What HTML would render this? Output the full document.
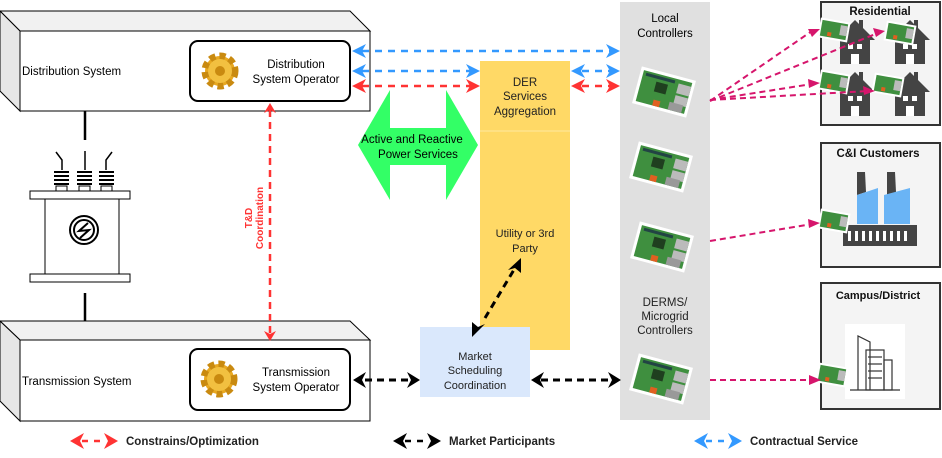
<!DOCTYPE html>
<html><head><meta charset="utf-8"><style>
html,body{margin:0;padding:0;background:#fff}
svg{display:block;font-family:"Liberation Sans",sans-serif}
</style></head><body>
<svg width="942" height="458" viewBox="0 0 942 458" xmlns="http://www.w3.org/2000/svg">
<defs>
<g id="pi">
  <rect x="-28" y="-19" width="56" height="38" fill="#fff"/>
  <rect x="-25" y="-16" width="50" height="32" fill="#3f8f3f"/>
  <rect x="-10" y="-8" width="12" height="10" fill="#1f3f1f"/>
  <rect x="12" y="-12" width="13" height="10" fill="#bbb"/>
  <rect x="12" y="0" width="13" height="9" fill="#bbb"/>
  <rect x="8" y="8" width="14" height="8" fill="#999"/>
  <rect x="-8" y="10" width="7" height="6" fill="#e06020"/>
  <rect x="-22" y="-14" width="30" height="3" fill="#244"/>
</g>
<g id="pis">
  <rect x="-15" y="-10" width="30" height="20" fill="#fff"/>
  <rect x="-13" y="-8" width="26" height="16" fill="#3f8f3f"/>
  <rect x="6" y="-6" width="7" height="10" fill="#bbb"/>
  <rect x="-6" y="3" width="4" height="4" fill="#e06020"/>
</g>
<g id="house">
  <polygon points="0,-22 -20,-2 -15,-2 -15,22 15,22 15,-2 20,-2 8,-14 8,-22 4,-22 4,-18" fill="#444"/>
  <rect x="-7" y="2" width="5" height="5" fill="#fff"/><rect x="2" y="2" width="5" height="5" fill="#fff"/>
  <rect x="-4" y="12" width="8" height="10" fill="#fff"/>
</g>
<g id="gear">
  <circle cx="0" cy="0" r="15" fill="#e8a820" stroke="#c98a10" stroke-width="7" stroke-dasharray="6 4"/>
  <circle cx="0" cy="0" r="12" fill="#f2c040"/>
  <circle cx="0" cy="0" r="5" fill="#c98a10"/>
</g>
</defs>

<polygon points="0,11 350,11 370,31 20,31" fill="#f1f1f1" stroke="#000"/>
<polygon points="0,11 20,31 20,111 0,91" fill="#e6e6e6" stroke="#000"/>
<rect x="20" y="31" width="350" height="80" fill="#fff" stroke="#000"/>
<text x="22" y="75" font-size="11.5">Distribution System</text>
<rect x="190" y="41" width="160" height="60" rx="8" fill="#fff" stroke="#000" stroke-width="2"/>
<use href="#gear" x="220" y="71"/>
<text x="296" y="68" font-size="11.5" text-anchor="middle">Distribution</text>
<text x="296" y="83" font-size="11.5" text-anchor="middle">System Operator</text>

<polygon points="0,321 350,321 370,340 20,340" fill="#f1f1f1" stroke="#000"/>
<polygon points="0,321 20,340 20,421 0,401" fill="#e6e6e6" stroke="#000"/>
<rect x="20" y="340" width="350" height="81" fill="#fff" stroke="#000"/>
<text x="22" y="385" font-size="11.5">Transmission System</text>
<rect x="190" y="349" width="160" height="61" rx="8" fill="#fff" stroke="#000" stroke-width="2"/>
<use href="#gear" x="219" y="379"/>
<text x="296" y="376" font-size="11.5" text-anchor="middle">Transmission</text>
<text x="296" y="391" font-size="11.5" text-anchor="middle">System Operator</text>

<line x1="85" y1="111" x2="85" y2="140" stroke="#000" stroke-width="2.5"/>
<line x1="85" y1="293" x2="85" y2="321" stroke="#000" stroke-width="2.5"/>
<g stroke="#000" fill="none" stroke-width="1.5">
<path d="M56,152 L62,160 L62,170"/><path d="M85,151 L85,170"/><path d="M112,152 L106,160 L106,170"/>
</g>
<g fill="#000">
<rect x="54" y="171" width="15" height="2"/><rect x="54" y="175" width="15" height="2"/><rect x="54" y="179" width="15" height="2"/><rect x="54" y="183" width="15" height="2"/>
<rect x="77" y="171" width="15" height="2"/><rect x="77" y="175" width="15" height="2"/><rect x="77" y="179" width="15" height="2"/><rect x="77" y="183" width="15" height="2"/>
<rect x="99" y="171" width="15" height="2"/><rect x="99" y="175" width="15" height="2"/><rect x="99" y="179" width="15" height="2"/><rect x="99" y="183" width="15" height="2"/>
</g>
<g fill="#fff" stroke="#000">
<rect x="56" y="186" width="11" height="5"/><rect x="79" y="186" width="11" height="5"/><rect x="101" y="186" width="11" height="5"/>
<rect x="45" y="199" width="74" height="75"/>
<rect x="30" y="191" width="100" height="8"/>
<rect x="30" y="274" width="100" height="8"/>
</g>
<circle cx="84" cy="230" r="14" fill="#fff" stroke="#000" stroke-width="2"/>
<circle cx="84" cy="230" r="10" fill="none" stroke="#000" stroke-width="2"/>
<path d="M88,223 L79,231 L89,230 L80,238" fill="none" stroke="#000" stroke-width="2"/>

<line x1="270" y1="110" x2="270" y2="333" stroke="#ff3333" stroke-width="2.5" stroke-dasharray="7 5"/>
<polygon points="270,103 264,113 270,110 276,113" fill="#ff3333"/>
<polygon points="270,341 264,331 270,334 276,331" fill="#ff3333"/>
<text transform="translate(252,218) rotate(-90)" font-size="10" font-weight="bold" fill="#ff3333" text-anchor="middle">T&amp;D</text>
<text transform="translate(263,218) rotate(-90)" font-size="10" font-weight="bold" fill="#ff3333" text-anchor="middle">Coordination</text>

<rect x="480" y="61" width="90" height="289" fill="#ffd966"/>
<line x1="480" y1="131" x2="570" y2="131" stroke="#ffe9a0"/>
<text x="525" y="86" font-size="11.5" text-anchor="middle" fill="#222">DER</text>
<text x="525" y="100" font-size="11.5" text-anchor="middle" fill="#222">Services</text>
<text x="525" y="115" font-size="11.5" text-anchor="middle" fill="#222">Aggregation</text>
<text x="525" y="237" font-size="11" text-anchor="middle" fill="#222">Utility or 3rd</text>
<text x="525" y="252" font-size="11" text-anchor="middle" fill="#222">Party</text>

<polygon points="358,145 390,90 390,128 446,128 446,90 478,145 446,200 446,165 390,165 390,200" fill="#33ff66"/>
<text x="412" y="143" font-size="11.5" text-anchor="middle">Active and Reactive</text>
<text x="418" y="158" font-size="11.5" text-anchor="middle">Power Services</text>

<rect x="620" y="2" width="90" height="418" fill="#e0e0e0"/>
<text x="665" y="22" font-size="11.5" text-anchor="middle">Local</text>
<text x="665" y="37" font-size="11.5" text-anchor="middle">Controllers</text>
<text x="665" y="306" font-size="11.5" text-anchor="middle" fill="#222">DERMS/</text>
<text x="665" y="320" font-size="11.5" text-anchor="middle" fill="#222">Microgrid</text>
<text x="665" y="334" font-size="11.5" text-anchor="middle" fill="#222">Controllers</text>
<use href="#pi" transform="translate(664,92) rotate(15)"/>
<use href="#pi" transform="translate(661,167) rotate(15)"/>
<use href="#pi" transform="translate(662,247) rotate(15)"/>
<use href="#pi" transform="translate(661,379) rotate(15)"/>

<rect x="420" y="327" width="110" height="70" fill="#dae8fc"/>
<text x="475" y="360" font-size="11" text-anchor="middle" fill="#222">Market</text>
<text x="475" y="374" font-size="11" text-anchor="middle" fill="#222">Scheduling</text>
<text x="475" y="389" font-size="11" text-anchor="middle" fill="#222">Coordination</text>

<g stroke-width="2.5" stroke-dasharray="7 6">
<line x1="362" y1="51" x2="610" y2="51" stroke="#3399ff"/>
<line x1="362" y1="71" x2="470" y2="71" stroke="#3399ff"/>
<line x1="362" y1="86" x2="470" y2="86" stroke="#ff3333"/>
<line x1="582" y1="71" x2="610" y2="71" stroke="#3399ff"/>
<line x1="582" y1="86" x2="610" y2="86" stroke="#ff3333"/>
</g>
<g fill="#3399ff">
<polygon points="352,51 366,44 362,51 366,58"/><polygon points="620,51 606,44 610,51 606,58"/>
<polygon points="352,71 366,64 362,71 366,78"/><polygon points="480,71 466,64 470,71 466,78"/>
<polygon points="571,71 585,64 581,71 585,78"/><polygon points="620,71 606,64 610,71 606,78"/>
</g>
<g fill="#ff3333">
<polygon points="352,86 366,79 362,86 366,93"/><polygon points="480,86 466,79 470,86 466,93"/>
<polygon points="571,86 585,79 581,86 585,93"/><polygon points="620,86 606,79 610,86 606,93"/>
</g>

<g stroke="#000" stroke-width="3" stroke-dasharray="7 5">
<line x1="365" y1="380" x2="410" y2="380"/>
<line x1="541" y1="380" x2="610" y2="380"/>
<line x1="485" y1="318" x2="515" y2="268"/>
</g>
<g fill="#000">
<polygon points="353,380 366,372 362,380 366,388"/><polygon points="420,380 407,372 411,380 407,388"/>
<polygon points="531,380 544,372 540,380 544,388"/><polygon points="621,380 608,372 612,380 608,388"/>
<polygon points="521,258 521,273 515,268 508,270"/>
<polygon points="472,337 472,322 478,327 485,324"/>
</g>

<rect x="821" y="2" width="119" height="123" fill="#f4f4f4" stroke="#333" stroke-width="2"/>
<text x="880" y="15" font-size="11.5" font-weight="bold" text-anchor="middle" fill="#111">Residential</text>
<use href="#house" x="855" y="42"/><use href="#house" x="910" y="42"/>
<use href="#house" x="855" y="94"/><use href="#house" x="910" y="94"/>
<use href="#pis" transform="translate(834,30) rotate(10)"/>
<use href="#pis" transform="translate(900,33) rotate(10)"/>
<use href="#pis" transform="translate(834,82) rotate(10)"/>
<use href="#pis" transform="translate(888,85) rotate(10)"/>

<rect x="821" y="143" width="119" height="124" fill="#f4f4f4" stroke="#333" stroke-width="2"/>
<text x="878" y="157" font-size="11.5" font-weight="bold" text-anchor="middle" fill="#111">C&amp;I Customers</text>
<polygon points="857,172 865,172 866,192 857,195" fill="#444"/>
<polygon points="887,172 895,172 896,192 887,195" fill="#444"/>
<polygon points="857,195 878,188 878,224 857,224" fill="#6ab4f5"/>
<polygon points="884,195 910,188 910,224 884,224" fill="#6ab4f5"/>
<rect x="843" y="225" width="74" height="21" fill="#444"/>
<g fill="#fff"><rect x="848" y="231" width="3" height="10"/><rect x="855" y="231" width="3" height="10"/><rect x="862" y="231" width="3" height="10"/><rect x="869" y="231" width="3" height="10"/><rect x="876" y="231" width="3" height="10"/><rect x="883" y="231" width="3" height="10"/><rect x="890" y="231" width="3" height="10"/><rect x="897" y="231" width="3" height="10"/><rect x="904" y="231" width="3" height="10"/></g>
<use href="#pis" transform="translate(834,221) rotate(10)"/>

<rect x="821" y="283" width="119" height="126" fill="#f4f4f4" stroke="#333" stroke-width="2"/>
<text x="878" y="299" font-size="11" font-weight="bold" text-anchor="middle" fill="#111">Campus/District</text>
<rect x="845" y="324" width="60" height="75" fill="#fff"/>
<g fill="none" stroke="#333" stroke-width="1.2">
<path d="M858,390 L858,336 L870,342 L870,390"/><rect x="866" y="350" width="18" height="40"/><rect x="884" y="360" width="8" height="30"/>
<line x1="850" y1="390" x2="900" y2="390"/>
<line x1="868" y1="357" x2="882" y2="357"/><line x1="868" y1="364" x2="882" y2="364"/><line x1="868" y1="371" x2="882" y2="371"/><line x1="868" y1="378" x2="882" y2="378"/>
</g>
<use href="#pis" transform="translate(832,375) rotate(10)"/>

<g stroke="#d6156c" stroke-width="2" stroke-dasharray="6 4" fill="none">
<line x1="710" y1="101" x2="812" y2="31"/>
<line x1="710" y1="101" x2="878" y2="33"/>
<line x1="710" y1="100" x2="812" y2="84"/>
<line x1="710" y1="100" x2="868" y2="91"/>
<line x1="710" y1="241" x2="812" y2="224"/>
<line x1="710" y1="380" x2="812" y2="380"/>
</g>
<g fill="#d6156c">
<polygon points="820,29 808,29 812,37"/>
<polygon points="885,31 873,28 876,37"/>
<polygon points="820,83 808,79 809,88"/>
<polygon points="875,91 863,86 864,95"/>
<polygon points="820,223 808,219 809,228"/>
<polygon points="821,380 809,375 809,385"/>
</g>

<g fill="#ff3333"><polygon points="70,441 84,433 80,441 84,449"/><polygon points="118,441 104,433 108,441 104,449"/></g>
<line x1="82" y1="441" x2="106" y2="441" stroke="#ff3333" stroke-width="2.5" stroke-dasharray="6 6"/>
<text x="126" y="445" font-size="11.5" font-weight="bold" fill="#222">Constrains/Optimization</text>
<g fill="#000"><polygon points="393,441 407,433 403,441 407,449"/><polygon points="441,441 427,433 431,441 427,449"/></g>
<line x1="405" y1="441" x2="429" y2="441" stroke="#000" stroke-width="2.5" stroke-dasharray="6 6"/>
<text x="449" y="445" font-size="11.5" font-weight="bold" fill="#222">Market Participants</text>
<g fill="#3399ff"><polygon points="694,441 708,433 704,441 708,449"/><polygon points="742,441 728,433 732,441 728,449"/></g>
<line x1="706" y1="441" x2="730" y2="441" stroke="#3399ff" stroke-width="2.5" stroke-dasharray="6 6"/>
<text x="750" y="445" font-size="11.5" font-weight="bold" fill="#222">Contractual Service</text>
</svg>
</body></html>
